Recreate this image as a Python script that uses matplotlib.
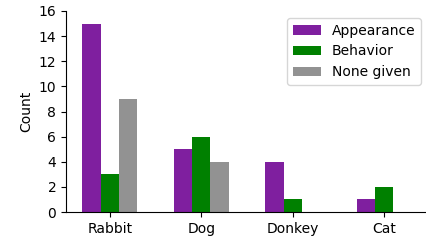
import matplotlib
matplotlib.use("Agg")
import matplotlib.pyplot as plt
import numpy as np

categories = ["Rabbit", "Dog", "Donkey", "Cat"]
appearance = [15, 5, 4, 1]
behavior = [3, 6, 1, 2]
none_given = [9, 4, 0, 0]

fig = plt.figure(figsize=(4.27, 2.41), dpi=100)
ax = fig.add_axes([66/427, 29/241, 362/427, 201/241])
x = np.arange(len(categories))
w = 0.2
ax.bar(x - w, appearance, w, color="#7f1f9f", label="Appearance")
ax.bar(x, behavior, w, color="#008000", label="Behavior")
ax.bar(x + w, none_given, w, color="#929292", label="None given")
ax.set_xticks(x)
ax.set_xticklabels(categories)
ax.set_ylim(0, 16)
ax.set_yticks(range(0, 17, 2))
ax.set_xlim(-0.48, 3.48)
ax.set_ylabel("Count")
ax.spines["top"].set_visible(False)
ax.spines["right"].set_visible(False)
ax.legend(loc="upper right")
fig.savefig("out.png", dpi=100)
